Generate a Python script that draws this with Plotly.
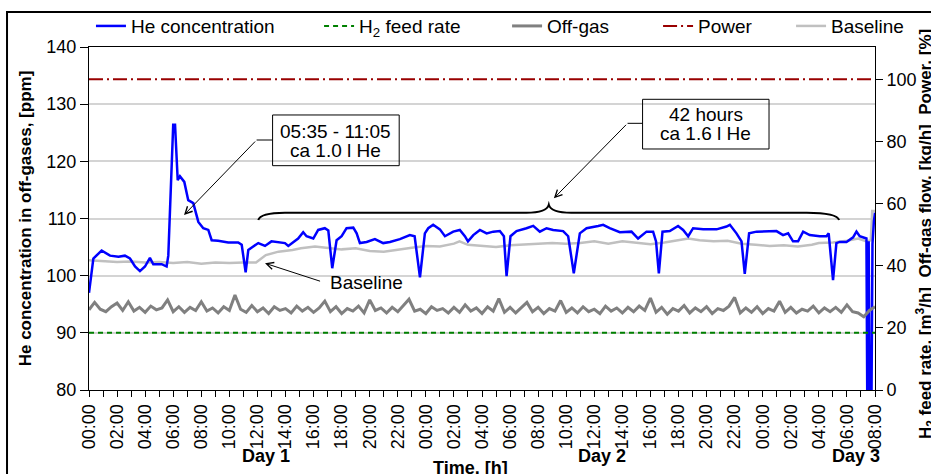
import plotly.graph_objects as go

FONT = "Liberation Sans, Arial, sans-serif"

# ---------------- data ----------------
# He concentration in off-gases [ppm] vs. elapsed time [h]
he_time = [0.00, 0.31, 0.90, 1.50, 2.10, 2.56, 2.92, 3.28, 3.63, 3.99, 4.34, 4.58, 5.18, 5.53, 5.65,
           6.00, 6.13, 6.32, 6.48, 6.79, 7.07, 7.43, 7.79, 8.14, 8.50, 8.74, 9.20, 9.92, 10.63, 10.88,
           11.16, 11.35, 11.70, 12.06, 12.54, 13.00, 13.96, 14.20, 14.90, 15.26, 15.50, 15.98, 16.33,
           16.80, 17.05, 17.33, 17.64, 18.00, 18.35, 18.83, 19.07, 19.30, 19.78, 20.37, 20.96, 21.44,
           22.15, 22.86, 23.20, 23.58, 23.93, 24.17, 24.52, 25.00, 25.36, 25.95, 26.42, 26.78, 27.00,
           27.38, 27.85, 28.33, 28.80, 29.27, 29.56, 29.75, 30.03, 30.46, 31.17, 31.65, 32.12, 32.60,
           33.07, 33.78, 34.14, 34.54, 34.97, 35.45, 36.28, 36.63, 37.10, 37.82, 38.65, 39.12, 39.72,
           40.19, 40.40, 40.60, 40.86, 41.38, 41.97, 42.33, 42.69, 43.04, 43.76, 44.71, 45.42, 45.66,
           46.13, 46.49, 46.72, 47.03, 47.56, 48.50, 48.98, 49.45, 49.81, 50.16, 50.52, 50.88, 51.35,
           52.07, 52.54, 52.70, 53.01, 53.25, 53.49, 53.97, 54.44, 54.68, 54.91, 55.39, 55.45, 55.55,
           55.62, 55.75, 55.82, 55.92, 56.00]
he_ppm = [97.0, 103.0, 104.4, 103.5, 103.3, 103.5, 103.0, 101.6, 100.8, 101.6, 103.1, 102.0, 102.0, 101.6, 103.5,
          126.4, 126.4, 116.7, 117.4, 116.4, 113.2, 112.7, 109.4, 108.3, 108.0, 106.2, 106.1, 105.8, 105.8, 105.4,
          100.6, 104.5, 105.1, 105.7, 105.2, 106.0, 105.7, 105.2, 106.5, 107.6, 106.9, 106.5, 108.0,
          108.3, 107.9, 101.3, 106.2, 106.9, 108.3, 108.4, 107.4, 105.7, 105.9, 106.4, 105.7, 105.9,
          106.4, 107.1, 106.9, 99.7, 107.4, 108.3, 108.9, 108.1, 106.9, 107.7, 108.0, 106.9, 106.0,
          107.1, 108.0, 107.4, 107.7, 107.8, 106.9, 99.9, 106.9, 107.8, 108.3, 108.7, 107.7, 108.3,
          108.0, 107.8, 106.9, 100.4, 107.4, 108.3, 108.7, 108.9, 108.3, 107.6, 107.7, 106.5, 107.7,
          107.7, 106.0, 100.4, 107.7, 107.8, 108.7, 108.0, 106.9, 108.3, 108.1, 108.1, 108.6, 108.9,
          107.4, 106.0, 100.3, 107.4, 107.7, 107.7, 107.8, 107.1, 107.4, 106.0, 106.0, 107.7, 107.1,
          106.9, 106.9, 107.4, 99.2, 105.7, 105.9, 105.9, 106.7, 107.7, 106.9, 106.5, 78.0, 106.0,
          78.0, 78.0, 105.5, 109.5, 111.0]

# Baseline [ppm]
base_time = [0.0, 1.0, 2.0, 3.0, 4.0, 5.0, 6.0, 7.0, 8.0, 9.0, 10.0, 11.0, 11.9, 12.6, 13.5, 14.5, 15.1,
             16.1, 17.0, 18.0, 19.0, 20.0, 21.0, 22.0, 23.0, 24.0, 25.0, 26.0, 26.4, 27.0, 28.0, 29.0,
             30.0, 31.0, 32.0, 33.0, 34.0, 35.0, 36.0, 37.0, 38.0, 39.0, 40.0, 41.0, 42.0, 42.7, 43.5,
             44.5, 45.5, 46.5, 47.5, 48.5, 49.5, 50.5, 51.5, 52.0, 53.0, 54.0, 54.8, 55.4, 55.7, 55.8, 56.0]
base_ppm = [102.7, 102.6, 102.4, 102.5, 102.3, 102.4, 102.2, 102.4, 102.1, 102.3, 102.2, 102.3, 102.3, 103.6,
            104.2, 104.5, 104.8, 105.1, 104.9, 104.6, 104.8, 104.3, 104.2, 104.6, 104.9, 105.2, 105.1, 105.6,
            106.0, 105.4, 105.2, 105.0, 105.3, 105.4, 105.5, 105.7, 105.6, 105.7, 106.0, 105.6, 106.0, 105.8,
            105.5, 105.8, 106.2, 106.5, 106.2, 106.0, 106.1, 105.6, 105.4, 105.2, 105.3, 105.1, 105.4, 105.7,
            105.8, 106.1, 106.5, 106.0, 106.2, 111.3, 111.3]

# Off-gas flow [kg/h], one reading every 0.4 h
offgas_step_h = 0.4
offgas_flow = [25.8, 28.2, 26.0, 25.2, 26.8, 28.0, 25.6, 28.4, 25.4, 26.6, 25.0, 27.0, 25.8, 26.4, 29.0,
               25.2, 26.8, 25.0, 26.6, 25.6, 28.4, 25.4, 26.4, 24.8, 26.8, 25.6, 30.6, 26.0, 25.0, 27.2,
               25.2, 26.4, 24.6, 26.8, 25.6, 26.2, 24.8, 27.0, 25.4, 26.6, 25.0, 26.4, 28.6, 25.2, 26.8,
               24.6, 26.2, 25.4, 27.0, 24.8, 29.0, 25.6, 26.4, 24.8, 26.6, 25.2, 27.2, 29.2, 25.4, 26.0,
               24.6, 26.8, 25.6, 26.2, 24.8, 26.6, 25.0, 27.4, 25.4, 26.4, 24.6, 26.8, 25.4, 29.4, 25.0,
               26.6, 24.8, 26.4, 28.2, 25.2, 26.6, 24.6, 26.2, 25.4, 28.8, 25.0, 26.4, 24.8, 26.8, 25.2,
               26.0, 24.6, 27.0, 25.4, 26.4, 24.8, 26.6, 25.2, 27.0, 25.6, 29.6, 25.0, 26.6, 24.4, 26.2,
               25.4, 27.2, 24.8, 26.4, 25.2, 26.8, 24.6, 26.2, 25.6, 27.0, 29.8, 24.8, 26.4, 25.0, 26.8,
               24.6, 26.2, 25.4, 28.6, 25.0, 26.6, 24.8, 26.0, 25.4, 27.0, 24.8, 26.4, 25.2, 26.6, 25.0,
               27.4, 25.2, 24.8, 23.6, 25.6, 26.8]
offgas_time = [i * offgas_step_h for i in range(len(offgas_flow))]

# H2 feed rate [m3/h] and reactor power [%], every 4 h
slow_time = [0, 4, 8, 12, 16, 20, 24, 28, 32, 36, 40, 44, 48, 52, 56]
h2_feed = [18.4, 18.4, 18.4, 18.4, 18.4, 18.4, 18.4, 18.4, 18.4, 18.4, 18.4, 18.4, 18.4, 18.4, 18.4]
power = [100, 100, 100, 100, 100, 100, 100, 100, 100, 100, 100, 100, 100, 100, 100]

# x tick labels (every 2 h) and day labels
tick_hours = [0, 2, 4, 6, 8, 10, 12, 14, 16, 18, 20, 22, 24, 26, 28, 30, 32, 34, 36, 38, 40, 42, 44, 46,
              48, 50, 52, 54, 56]
tick_labels = ["00:00", "02:00", "04:00", "06:00", "08:00", "10:00", "12:00", "14:00", "16:00", "18:00",
               "20:00", "22:00", "00:00", "02:00", "04:00", "06:00", "08:00", "10:00", "12:00", "14:00",
               "16:00", "18:00", "20:00", "22:00", "00:00", "02:00", "04:00", "06:00", "08:00"]
day_labels = ["Day 1", "Day 2", "Day 3"]
day_label_pos = [12.59, 36.57, 54.63]

# ---------------- figure ----------------
fig = go.Figure()

fig.add_trace(go.Scatter(x=offgas_time, y=offgas_flow, name="Off-gas", yaxis="y2", mode="lines",
                         line=dict(color="#808080", width=3), legend="legend3"))
fig.add_trace(go.Scatter(x=slow_time, y=h2_feed, name="H<sub>2</sub> feed rate", yaxis="y2", mode="lines",
                         line=dict(color="#008000", width=2, dash="5px,4px"), legend="legend2"))
fig.add_trace(go.Scatter(x=slow_time, y=power, name="Power", yaxis="y2", mode="lines",
                         line=dict(color="#990000", width=2, dash="14px,4px,2px,4px"), legend="legend4"))
fig.add_trace(go.Scatter(x=base_time, y=base_ppm, name="Baseline", mode="lines",
                         line=dict(color="#C0C0C0", width=2.5), legend="legend5"))
fig.add_trace(go.Scatter(x=he_time, y=he_ppm, name="He concentration", mode="lines",
                         line=dict(color="#0000FF", width=2.5), legend="legend"))


def leg(xp):
    return dict(x=xp, y=1.061, xanchor="left", yanchor="middle", orientation="h",
                bgcolor="rgba(0,0,0,0)", font=dict(family=FONT, size=19, color="black"))


fig.update_layout(
    width=931, height=474,
    showlegend=True,
    margin=dict(l=89, r=56, t=47, b=84, autoexpand=False),
    paper_bgcolor="white", plot_bgcolor="white",
    font=dict(family=FONT, color="black"),
    legend=leg(0.0025), legend2=leg(0.2927), legend3=leg(0.5319),
    legend4=leg(0.7240), legend5=leg(0.8932),
    xaxis=dict(range=[0, 56], tickmode="array", tickvals=tick_hours, ticktext=tick_labels,
               tickangle=-90, ticks="outside", ticklen=6, tickcolor="black", tickwidth=1,
               minor=dict(tick0=0, dtick=1, ticks="outside", ticklen=6, tickcolor="black", showgrid=False),
               showline=True, linecolor="black", linewidth=1, mirror=True, showgrid=False,
               zeroline=False, tickfont=dict(size=18), automargin=False),
    yaxis=dict(range=[80, 140], dtick=10, ticks="outside", ticklen=8, tickcolor="black",
               showline=True, linecolor="black", linewidth=1, mirror=True,
               showgrid=True, gridcolor="#D4D4D4", gridwidth=1.5, zeroline=False,
               tickfont=dict(size=18), automargin=False,
               title=dict(text="<b>He concentration in off-gases, [ppm]</b>", font=dict(size=17), standoff=10)),
    yaxis2=dict(range=[0, 110.4], overlaying="y", side="right", tickmode="array",
                tickvals=[0, 20, 40, 60, 80, 100], ticks="outside", ticklen=7, tickcolor="black",
                showline=True, linecolor="black", linewidth=1, showgrid=False, zeroline=False,
                tickfont=dict(size=18), automargin=False),
)

ann = []
# day labels
for lbl, pos in zip(day_labels, day_label_pos):
    ann.append(dict(x=pos, y=-0.1924, xref="x", yref="paper", text=f"<b>{lbl}</b>", showarrow=False,
                    font=dict(size=18), xanchor="center", yanchor="middle"))
# x axis title
ann.append(dict(x=0.486, y=-0.2274, xref="paper", yref="paper", text="<b>Time, [h]</b>", showarrow=False,
                font=dict(size=18), xanchor="center", yanchor="middle"))
# right axis title
ann.append(dict(x=1.0636, y=1.058, xref="paper", yref="paper", textangle=-90,
                text="<b>H<sub>2</sub> feed rate, [m<sup>3</sup>/h]&nbsp; Off-gas flow, [kg/h]&nbsp; Power, [%]</b>",
                showarrow=False, font=dict(size=17), xanchor="center", yanchor="top"))
# text boxes
ann.append(dict(x=17.59, y=125.18, text="05:35 - 11:05", showarrow=False, font=dict(size=19)))
ann.append(dict(x=17.59, y=121.86, text="ca 1.0 l He", showarrow=False, font=dict(size=19)))
ann.append(dict(x=43.95, y=128.23, text="42 hours", showarrow=False, font=dict(size=19)))
ann.append(dict(x=43.95, y=124.90, text="ca 1.6 l He", showarrow=False, font=dict(size=19)))
ann.append(dict(x=19.8, y=98.78, text="Baseline", showarrow=False, font=dict(size=19)))
# arrows
for hx, hy, tx, ty in [(6.77, 110.61, 11.94, 123.73), (33.12, 113.53, 38.37, 126.65),
                       (12.54, 102.17, 16.57, 98.95)]:
    ann.append(dict(x=hx, y=hy, ax=tx, ay=ty, xref="x", yref="y", axref="x", ayref="y", text="",
                    showarrow=True, arrowhead=5, arrowsize=1.4, arrowwidth=1, arrowcolor="black"))
fig.update_layout(annotations=ann)

shapes = []
# boxes
shapes.append(dict(type="rect", xref="x", yref="y", x0=13.08, x1=22.10, y0=119.24, y1=128.11,
                   line=dict(color="black", width=1), fillcolor="rgba(0,0,0,0)", layer="above"))
shapes.append(dict(type="rect", xref="x", yref="y", x0=39.44, x1=48.45, y0=122.16, y1=130.85,
                   line=dict(color="black", width=1), fillcolor="rgba(0,0,0,0)", layer="above"))
# leader segments
shapes.append(dict(type="line", xref="x", yref="y", x0=11.94, x1=13.08, y0=123.73, y1=123.73,
                   line=dict(color="black", width=1)))
shapes.append(dict(type="line", xref="x", yref="y", x0=38.37, x1=39.44, y0=126.65, y1=126.65,
                   line=dict(color="black", width=1)))
# curly brace
x0, xt, x1 = 12.06, 32.76, 53.44
ye, yl, yt = 109.74, 111.02, 112.42
brace = (f"M{x0},{ye} Q{x0 + 0.15},{yl} {x0 + 1.9},{yl} L{xt - 1.6},{yl} "
         f"Q{xt - 0.15},{yl} {xt},{yt} Q{xt + 0.15},{yl} {xt + 1.6},{yl} "
         f"L{x1 - 2.3},{yl} Q{x1 - 0.15},{yl} {x1},{ye}")
shapes.append(dict(type="path", xref="x", yref="y", path=brace, line=dict(color="black", width=2)))
# outer chart frame
shapes.append(dict(type="rect", xref="paper", yref="paper", x0=-0.1043, x1=1.083, y0=-0.30, y1=1.102,
                   line=dict(color="black", width=2), fillcolor="rgba(0,0,0,0)"))
fig.update_layout(shapes=shapes)

fig.write_html("out.html")
